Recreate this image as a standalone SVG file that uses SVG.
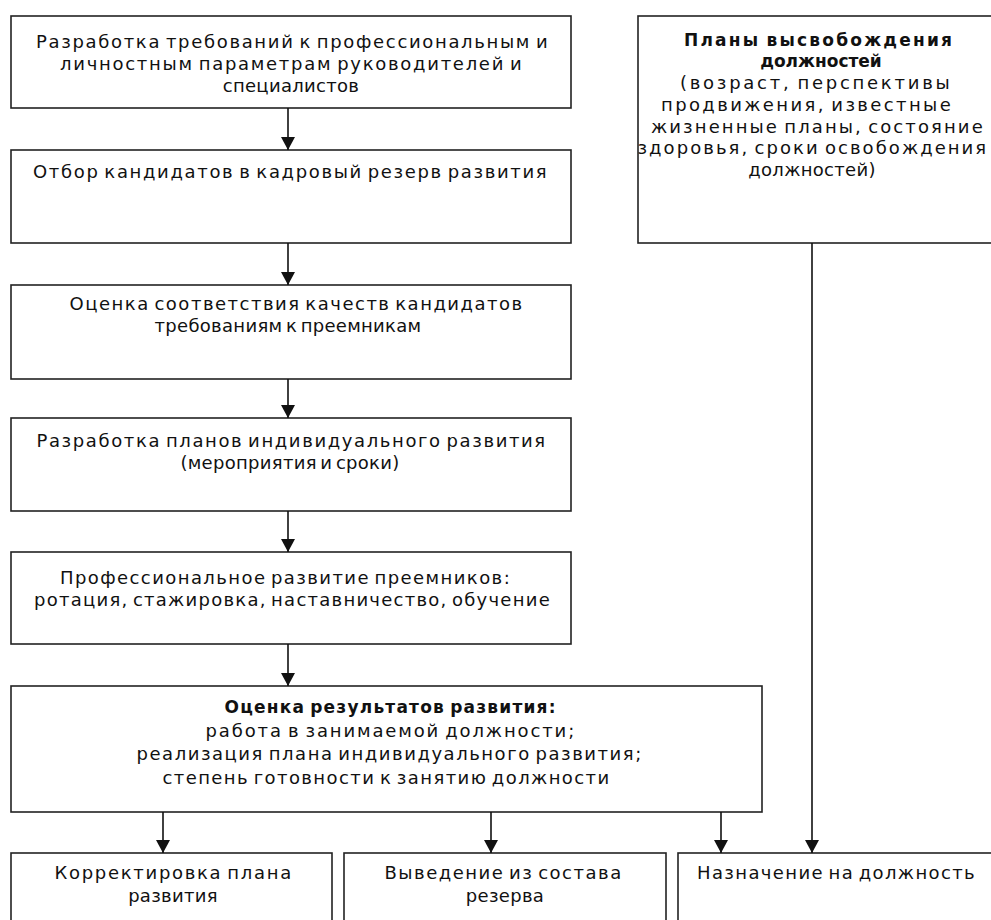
<svg xmlns="http://www.w3.org/2000/svg" width="991" height="920" viewBox="0 0 991 920">
<style>
.box{fill:#fff;stroke:#222;stroke-width:1.6}
.t{font-family:"DejaVu Sans","Liberation Sans",sans-serif;font-size:18px;fill:#111;text-anchor:middle;letter-spacing:0.3px;word-spacing:-2.5px}
.b{font-weight:bold;font-size:17px;letter-spacing:0;word-spacing:-2px}
.c{stroke:#111;stroke-width:1.6;fill:none}
</style>
<defs>
<marker id="ah" markerUnits="userSpaceOnUse" markerWidth="13" markerHeight="14" refX="13" refY="7" orient="auto" viewBox="0 0 13 14">
<path d="M0,0 L13,7 L0,14 z" fill="#111"/>
</marker>
</defs>
<rect width="991" height="920" fill="#fff"/>

<g id="n1">
<rect class="box" x="11" y="16" width="560" height="92"/>
<text class="t" x="292" y="48" textLength="512" lengthAdjust="spacing">Разработка требований к профессиональным и</text>
<text class="t" x="291" y="70" textLength="462" lengthAdjust="spacing">личностным параметрам руководителей и</text>
<text class="t" x="291" y="92">специалистов</text>
</g>

<g id="n2">
<rect class="box" x="11" y="150" width="560" height="93"/>
<text class="t" x="290" y="178" textLength="514" lengthAdjust="spacing">Отбор кандидатов в кадровый резерв развития</text>
</g>

<g id="n3">
<rect class="box" x="11" y="285" width="560" height="94"/>
<text class="t" x="296" y="310" textLength="453" lengthAdjust="spacing">Оценка соответствия качеств кандидатов</text>
<text class="t" x="288" y="332">требованиям к преемникам</text>
</g>

<g id="n4">
<rect class="box" x="11" y="418" width="560" height="93"/>
<text class="t" x="291" y="447" textLength="509" lengthAdjust="spacing">Разработка планов индивидуального развития</text>
<text class="t" x="290" y="469">(мероприятия и сроки)</text>
</g>

<g id="n5">
<rect class="box" x="11" y="552" width="560" height="92"/>
<text class="t" x="285" y="584" textLength="450" lengthAdjust="spacing">Профессиональное развитие преемников:</text>
<text class="t" x="292" y="606" textLength="516" lengthAdjust="spacing">ротация, стажировка, наставничество, обучение</text>
</g>

<g id="n6">
<rect class="box" x="11" y="686" width="751" height="126"/>
<text class="t b" x="390" y="713" textLength="331" lengthAdjust="spacing">Оценка результатов развития:</text>
<text class="t" x="390" y="737" textLength="369" lengthAdjust="spacing">работа в занимаемой должности;</text>
<text class="t" x="389" y="760" textLength="505" lengthAdjust="spacing">реализация плана индивидуального развития;</text>
<text class="t" x="386" y="784" textLength="447" lengthAdjust="spacing">степень готовности к занятию должности</text>
</g>

<g id="n7">
<rect class="box" x="638" y="16" width="360" height="227"/>
<text class="t b" x="818" y="46" textLength="268" lengthAdjust="spacing">Планы высвобождения</text>
<text class="t b" x="821" y="67">должностей</text>
<text class="t" x="815" y="89" textLength="270" lengthAdjust="spacing">(возраст, перспективы</text>
<text class="t" x="806" y="111" textLength="290" lengthAdjust="spacing">продвижения, известные</text>
<text class="t" x="817" y="133" textLength="332" lengthAdjust="spacing">жизненные планы, состояние</text>
<text class="t" x="812" y="154" textLength="349" lengthAdjust="spacing">здоровья, сроки освобождения</text>
<text class="t" x="812" y="176">должностей)</text>
</g>

<g id="n8">
<rect class="box" x="11" y="853" width="321" height="90"/>
<text class="t" x="173" y="879" textLength="237" lengthAdjust="spacing">Корректировка плана</text>
<text class="t" x="173" y="902">развития</text>
</g>

<g id="n9">
<rect class="box" x="344" y="853" width="322" height="90"/>
<text class="t" x="503" y="879" textLength="237" lengthAdjust="spacing">Выведение из состава</text>
<text class="t" x="505" y="902">резерва</text>
</g>

<g id="n10">
<rect class="box" x="678" y="853" width="330" height="90"/>
<text class="t" x="836" y="879" textLength="278" lengthAdjust="spacing">Назначение на должность</text>
</g>

<g id="connectors">
<line class="c" x1="288" y1="108" x2="288" y2="150" marker-end="url(#ah)"/>
<line class="c" x1="288" y1="243" x2="288" y2="285" marker-end="url(#ah)"/>
<line class="c" x1="288" y1="379" x2="288" y2="418" marker-end="url(#ah)"/>
<line class="c" x1="288" y1="511" x2="288" y2="552" marker-end="url(#ah)"/>
<line class="c" x1="288" y1="644" x2="288" y2="686" marker-end="url(#ah)"/>
<line class="c" x1="163" y1="812" x2="163" y2="853" marker-end="url(#ah)"/>
<line class="c" x1="491" y1="812" x2="491" y2="853" marker-end="url(#ah)"/>
<line class="c" x1="721" y1="812" x2="721" y2="853" marker-end="url(#ah)"/>
<line class="c" x1="812" y1="243" x2="812" y2="853" marker-end="url(#ah)"/>
</g>
</svg>
